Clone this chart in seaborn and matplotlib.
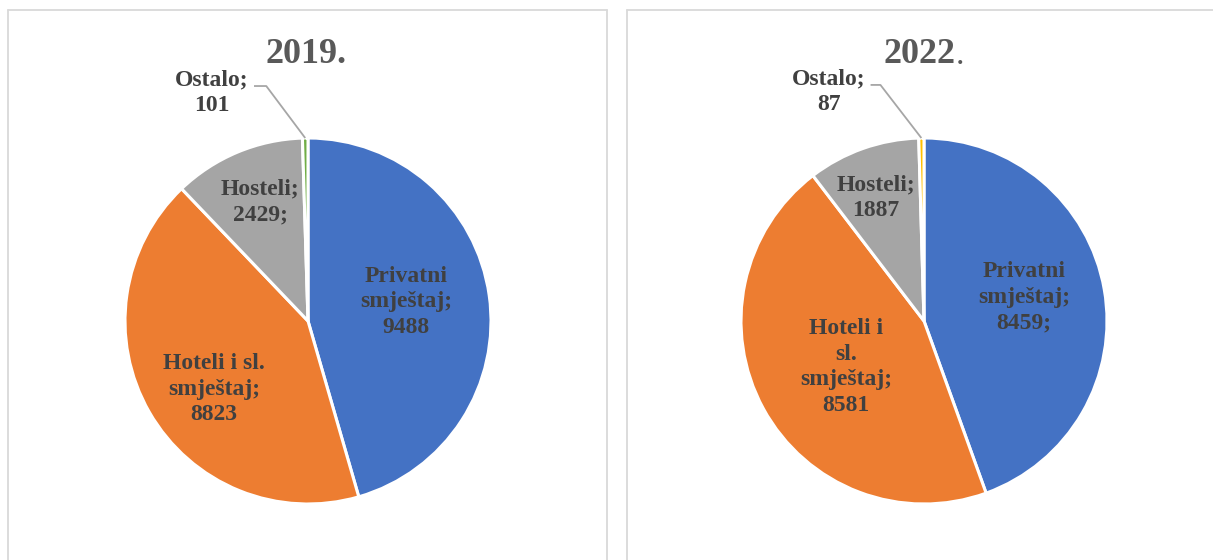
import numpy as np
import matplotlib
matplotlib.use("Agg")
import matplotlib.pyplot as plt
from matplotlib.lines import Line2D
import seaborn as sns

# ---------------- data ----------------
categories = ["Privatni smještaj", "Hoteli i sl. smještaj", "Hosteli", "Ostalo"]
values_2019 = [9488, 8823, 2429, 101]
values_2022 = [8459, 8581, 1887, 87]
labels_2019 = ["Privatni\nsmještaj;\n9488", "Hoteli i sl.\nsmještaj;\n8823",
               "Hosteli;\n2429;", "Ostalo;\n101"]
labels_2022 = ["Privatni\nsmještaj;\n8459;", "Hoteli i\nsl.\nsmještaj;\n8581",
               "Hosteli;\n1887", "Ostalo;\n87"]
titles = ["2019", "2022"]

colors_2019 = ["#4472C4", "#ED7D31", "#A5A5A5", "#70AD47"]
colors_2022 = ["#4472C4", "#ED7D31", "#A5A5A5", "#FFC000"]

# ---------------- style ----------------
sns.set_theme(style="white")
plt.rcParams["font.family"] = ["Liberation Serif", "DejaVu Serif"]
TXT = "#404040"

W, H, DPI = 1213, 560, 100
fig = plt.figure(figsize=(W / DPI, H / DPI), dpi=DPI)
fig.patch.set_facecolor("white")

R = 183.0  # pie radius in px

def px_ax(left, right, cx, cy):
    ax = fig.add_axes([left / W, 0, (right - left) / W, 1])
    return ax, ((left - cx) / R, (right - cx) / R), ((cy - H) / R, cy / R)

# layout (label positions in pie-radius units)
layout = [
    dict(area=(0, 607), center=(308, 321),
         label_pos=[(0.536, 0.104), (-0.514, -0.372), (-0.262, 0.650), (-0.527, 1.246)],
         title_pos=(-0.011, 1.41), leader=(-0.295, -0.228, 1.284)),
    dict(area=(613, 1213), center=(924, 321),
         label_pos=[(0.546, 0.131), (-0.426, -0.251), (-0.262, 0.672), (-0.519, 1.251)],
         title_pos=(-0.027, 1.41), leader=(-0.292, -0.238, 1.290)),
]

datasets = [(values_2019, labels_2019, colors_2019), (values_2022, labels_2022, colors_2022)]

for i, ((vals, labs, cols), lay) in enumerate(zip(datasets, layout)):
    ax, xl, yl = px_ax(lay["area"][0], lay["area"][1], *lay["center"])
    pal = sns.color_palette(cols)
    wedges, _ = ax.pie(vals, colors=pal, startangle=90, counterclock=False,
                       radius=1.0,
                       wedgeprops=dict(edgecolor="white", linewidth=2.2))
    ax.set_aspect("auto")
    ax.set_xlim(*xl)
    ax.set_ylim(*yl)
    ax.axis("off")

    for lab, (lx, ly) in zip(labs, lay["label_pos"]):
        ax.text(lx, ly, lab, ha="center", va="center", multialignment="center",
                fontsize=17, fontweight="bold", color=TXT, linespacing=1.28)

    # leader line for the smallest slice
    w = wedges[3]
    mid = np.deg2rad((w.theta1 + w.theta2) / 2)
    ex, ey = np.cos(mid), np.sin(mid)
    x0, x1, y0 = lay["leader"]
    ax.plot([x0, x1, ex], [y0, y0, ey], color="#A6A6A6", lw=1.3,
            solid_capstyle="butt", zorder=1)

    # title
    tx, ty = lay["title_pos"]
    if i == 0:
        ax.text(tx, ty, titles[i] + ".", ha="center", va="baseline",
                fontsize=26, fontweight="bold", color="#595959")
    else:
        t = ax.text(tx, ty, titles[i], ha="center", va="baseline",
                    fontsize=26, fontweight="bold", color="#595959")
        ax.annotate(".", xy=(1, 0), xycoords=t, xytext=(0.3, 0),
                    textcoords="offset points", ha="left", va="bottom",
                    fontsize=24, fontweight="normal", color="#595959")

# chart-area borders
bc = "#D9D9D9"
def fline(x0, y0, x1, y1):
    fig.add_artist(Line2D([x0 / W, x1 / W], [1 - y0 / H, 1 - y1 / H],
                          color=bc, lw=1.3, transform=fig.transFigure))

fline(8, 10, 607, 10)
fline(8, 10, 8, H)
fline(607, 10, 607, H)
fline(627, 10, W, 10)
fline(627, 10, 627, H)

fig.savefig("out.png", dpi=DPI, facecolor="white")
